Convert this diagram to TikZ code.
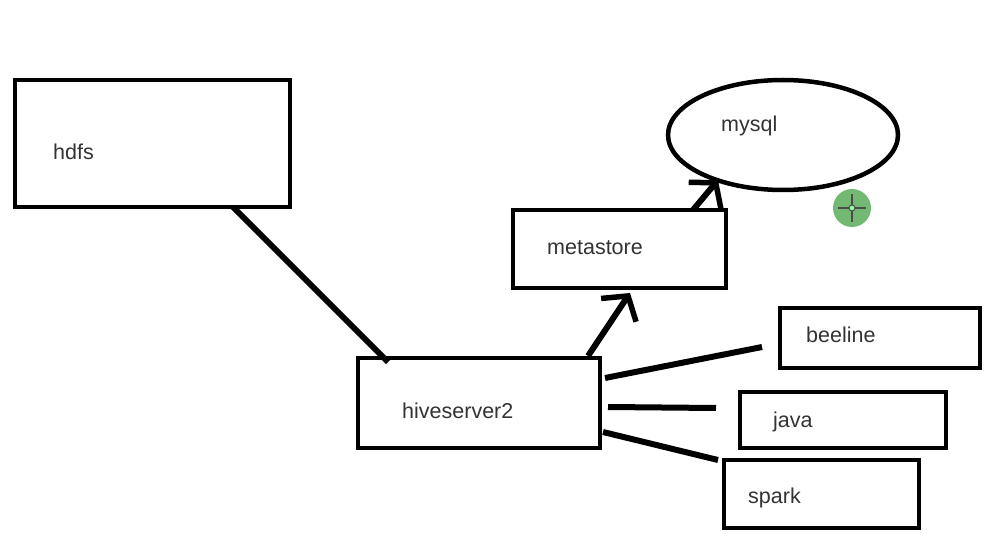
\documentclass[tikz,border=0pt]{standalone}
\usepackage{fontspec}
\setmainfont{Liberation Sans}
\usetikzlibrary{arrows.meta,shapes.geometric}
\begin{document}
\begin{tikzpicture}[x=1pt,y=-1pt,
  box/.style={draw=black,line width=4.5pt,inner sep=0pt},
  lbl/.style={anchor=west,inner sep=0pt,font=\fontsize{21.5}{26}\selectfont,text=black!80},
  conn/.style={line width=6pt,draw=black},
  arr/.style={conn,-{Straight Barb[length=17pt,width=42pt,line width=5.5pt]}}]
\useasboundingbox (0,0) rectangle (995,545);
\fill[white] (0,0) rectangle (995,545);
% boxes
\node[box,minimum width=275pt,minimum height=127pt] (hdfs) at (152.5,143.5) {};
\node[lbl] (hdfst) at (53,152) {hdfs};
\node[box,minimum width=213pt,minimum height=78pt] (meta) at (619.5,249) {};
\node[lbl] (metat) at (547,248) {metastore};
\node[box,ellipse,minimum width=230pt,minimum height=110pt] (mysql) at (783,135) {};
\node[lbl] (mysqlt) at (721,126) {mysql};
\node[box,minimum width=242pt,minimum height=90pt] (hs2) at (479,403) {};
\node[lbl] (hs2t) at (402,411) {hiveserver2};
\node[box,minimum width=200pt,minimum height=60pt] (beeline) at (880,338) {};
\node[lbl] (beelinet) at (806,335) {beeline};
\node[box,minimum width=206pt,minimum height=56pt] (java) at (843,420) {};
\node[lbl] (javat) at (773,422) {java};
\node[box,minimum width=195pt,minimum height=68pt] (spark) at (821.5,494) {};
\node[lbl] (sparkt) at (748,498) {spark};
% connector end points
\coordinate (a1) at (233,207);
\coordinate (a2) at (388,362);
\coordinate (b1) at (588,356);
\coordinate (b2) at (630,293);
\coordinate (c1) at (693,210);
\coordinate (c2) at (718,180);
\coordinate (d1) at (605,378);
\coordinate (d2) at (762,347);
\coordinate (e1) at (608,407);
\coordinate (e2) at (716,408);
\coordinate (f1) at (603,432);
\coordinate (f2) at (718,460);
\draw[conn] (a1) -- (a2);
\draw[arr] (b1) -- (b2);
\draw[arr] (c1) -- (c2);
\draw[conn] (d1) -- (d2);
\draw[conn] (e1) -- (e2);
\draw[conn] (f1) -- (f2);
% cursor mark
\fill[green!50!black!55] (852,208) circle (19pt);
\draw[black!70,line width=1.2pt] (852,194) -- (852,222) (838,208) -- (866,208);
\draw[black!70,line width=1pt,fill=green!40] (852,208) circle (3pt);
\end{tikzpicture}
\end{document}
